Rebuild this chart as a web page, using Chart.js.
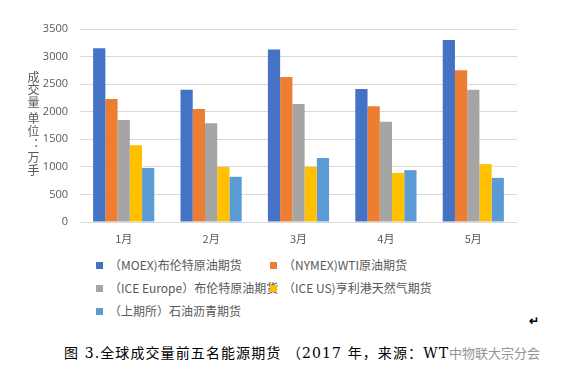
<!DOCTYPE html>
<html><head><meta charset="utf-8">
<script src="https://cdn.jsdelivr.net/npm/chart.js@4/dist/chart.umd.min.js"></script>
<style>
html,body{margin:0;padding:0;background:#fff;width:562px;height:377px;overflow:hidden;font-family:"Noto Sans CJK SC","Noto Sans",sans-serif;}
#wrap{position:absolute;left:0;top:0;width:562px;height:250px;}
#ytitle{position:absolute;left:26px;top:71px;writing-mode:vertical-rl;font-size:12px;color:#595959;line-height:14px;letter-spacing:0.8px;}
#legend{position:absolute;left:96px;top:256px;width:360px;font-size:12px;color:#595959;}
.li{position:absolute;white-space:nowrap;height:18px;line-height:18px;}
.sw{display:inline-block;width:7px;height:7px;margin-right:6px;vertical-align:1px;}
#caption{position:absolute;left:64px;top:342px;font-size:14px;color:#000;white-space:nowrap;font-family:"DejaVu Serif","Noto Sans CJK SC",serif;letter-spacing:1.1px;}
#wm{position:absolute;left:449px;top:343px;font-size:13px;color:#8a8a8a;white-space:nowrap;opacity:0.9;}
#ret{position:absolute;left:529px;top:311px;font-size:12px;color:#000;font-weight:bold;}
</style></head><body>
<div id="wrap"><canvas id="c" width="562" height="250"></canvas></div>
<div id="ytitle">成交量 单位：万手</div>
<div id="legend"></div>
<div id="caption">图 3.全球成交量前五名能源期货 （2017 年，来源：WT</div>
<div id="wm">中物联大宗分会</div>
<div id="ret">↵</div>
<script>
const categories = ["1月","2月","3月","4月","5月"];
const seriesNames = ["（MOEX)布伦特原油期货","（NYMEX)WTI原油期货","（ICE Europe）布伦特原油期货","（ICE US)亨利港天然气期货","（上期所）石油沥青期货"];
const moexBrent = [3150, 2400, 3130, 2410, 3300];
const nymexWti = [2230, 2050, 2630, 2100, 2750];
const iceEuropeBrent = [1850, 1790, 2140, 1820, 2400];
const iceUsGas = [1390, 1000, 1000, 890, 1050];
const shfeBitumen = [980, 820, 1160, 940, 800];
const yTicks = [0, 500, 1000, 1500, 2000, 2500, 3000, 3500];
const colors = ["#4472C4","#ED7D31","#A5A5A5","#FFC000","#5B9BD5"];
const allSeries = [moexBrent, nymexWti, iceEuropeBrent, iceUsGas, shfeBitumen];

const datasets = allSeries.map((d,i)=>({label:seriesNames[i],data:d,backgroundColor:colors[i],borderWidth:0,categoryPercentage:0.7,barPercentage:1.0}));

new Chart(document.getElementById('c'),{
  type:'bar',
  data:{labels:categories,datasets},
  options:{
    responsive:false,animation:false,
    layout:{padding:{top:29,right:45,left:0,bottom:0}},
    plugins:{legend:{display:false},tooltip:{enabled:false}},
    scales:{
      x:{
        grid:{display:false},border:{display:false},
        ticks:{color:'#595959',font:{size:11,family:'"Noto Sans CJK SC"'},padding:2},
        afterFit:(s)=>{s.height=28;}
      },
      y:{
        min:0,max:3500,
        afterBuildTicks:(s)=>{s.ticks=yTicks.map(v=>({value:v}));},
        grid:{color:'#D9D9D9',lineWidth:1,drawTicks:false},
        border:{display:false},
        ticks:{color:'#595959',font:{size:11,family:'"Open Sans","Noto Sans"'},padding:12,callback:(v)=>String(v)},
        afterFit:(s)=>{s.width=80;}
      }
    }
  }
});

const lg=document.getElementById('legend');
const pos=[[0,0],[174,0],[0,23],[174,23],[0,46]];
seriesNames.forEach((n,i)=>{
  const d=document.createElement('div');d.className='li';
  d.style.left=pos[i][0]+'px';d.style.top=pos[i][1]+'px';
  d.innerHTML='<span class="sw" style="background:'+colors[i]+'"></span>'+n;
  lg.appendChild(d);
});
</script>
</body></html>
